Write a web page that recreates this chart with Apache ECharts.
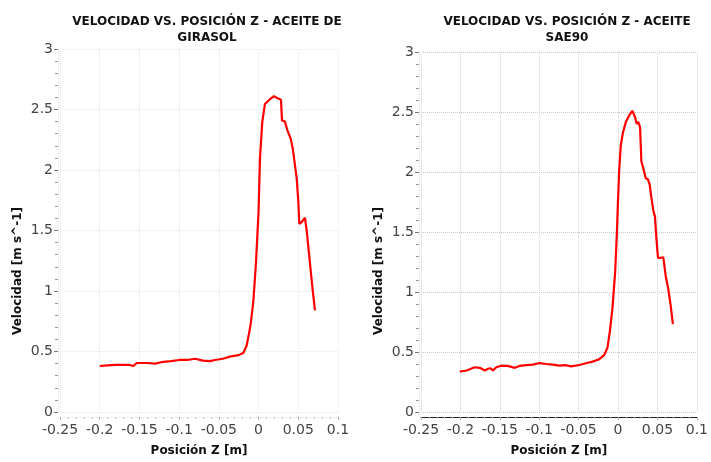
<!DOCTYPE html>
<html><head><meta charset="utf-8">
<script src="https://cdn.jsdelivr.net/npm/echarts@6/dist/echarts.min.js"></script>
<style>html,body{margin:0;padding:0;background:#fff}#c{width:711px;height:462px}</style>
</head><body><div id="c"></div>
<script>
var titleLeft = 'VELOCIDAD VS. POSICIÓN Z - ACEITE DE\nGIRASOL';
var titleRight = 'VELOCIDAD VS. POSICIÓN Z - ACEITE\nSAE90';
var xName = 'Posición Z [m]';
var yName = 'Velocidad [m s^-1]';

var zGirasol = [-0.2,-0.19,-0.18,-0.17,-0.163,-0.158,-0.153,-0.14,-0.13,-0.12,-0.11,-0.1,-0.09,-0.08,-0.07,-0.061,-0.055,-0.045,-0.035,-0.025,-0.019,-0.015,-0.012,-0.0099,-0.0067,-0.0033,0,0.0018,0.0047,0.008,0.0144,0.0194,0.0248,0.0282,0.0295,0.0332,0.0362,0.0404,0.043,0.0458,0.048,0.050,0.0513,0.0543,0.0584,0.0606,0.0647,0.0681,0.071];
var vGirasol = [0.38,0.385,0.39,0.39,0.39,0.38,0.405,0.405,0.40,0.415,0.42,0.43,0.43,0.44,0.425,0.42,0.43,0.44,0.46,0.47,0.49,0.55,0.65,0.73,0.905,1.23,1.66,2.10,2.40,2.545,2.585,2.61,2.59,2.58,2.41,2.40,2.33,2.26,2.18,2.04,1.93,1.745,1.555,1.57,1.605,1.50,1.23,1.01,0.84];

var zSae = [-0.2008,-0.192,-0.182,-0.1755,-0.169,-0.165,-0.1616,-0.1587,-0.1545,-0.148,-0.14,-0.131,-0.125,-0.1165,-0.108,-0.0997,-0.091,-0.083,-0.0744,-0.066,-0.0596,-0.049,-0.0407,-0.0323,-0.0239,-0.0176,-0.0134,-0.0104,-0.0071,-0.0037,-0.0015,0.0001,0.0014,0.0035,0.0064,0.0099,0.014,0.0182,0.0216,0.0237,0.0254,0.0279,0.0296,0.033,0.0351,0.038,0.0402,0.0422,0.0447,0.0469,0.0485,0.0507,0.054,0.0574,0.0604,0.0637,0.0667,0.0696];
var vSae = [0.337,0.346,0.373,0.368,0.346,0.36,0.365,0.346,0.373,0.386,0.384,0.368,0.384,0.39,0.395,0.408,0.40,0.395,0.386,0.39,0.38,0.392,0.406,0.42,0.44,0.474,0.537,0.672,0.864,1.163,1.49,1.79,2.007,2.225,2.334,2.416,2.47,2.51,2.457,2.40,2.42,2.375,2.09,2.007,1.947,1.939,1.893,1.79,1.68,1.626,1.46,1.285,1.285,1.29,1.136,1.027,0.89,0.733];

function pairs(a,b){return a.map(function(v,i){return [v,b[i]];});}
var FONT = 'DejaVu Sans';

function xAxis(idx, dark){
  return {
    type:'value', gridIndex:idx, min:-0.25, max:0.1, interval:0.05, offset:5,
    name:xName, nameLocation:'middle', nameGap:28,
    nameTextStyle:{fontFamily:FONT, fontWeight:'bold', fontSize:12, color:'#111'},
    axisLine:{show:true, onZero:false, lineStyle:{color: dark ? '#222' : '#eeeeee', width:1}},
    axisTick:{show:true, length:3, lineStyle:{color:'#aaa'}},
    minorTick:{show:true, splitNumber:5, length:2, lineStyle:{color:'#c4c4c4'}},
    axisLabel:{fontFamily:FONT, fontSize:14, color:'#444', margin:6},
    splitLine:{show:true, lineStyle:{type:'dotted', color: dark ? '#d2d2d2' : '#e6e6e6'}}
  };
}
function yAxis(idx, dark){
  return {
    type:'value', gridIndex:idx, min:0, max:3, interval:0.5, offset:2,
    axisLine:{show:true, onZero:false, lineStyle:{color:'#ececec', width:1}},
    axisTick:{show:true, length:4, lineStyle:{color:'#777'}},
    minorTick:{show:true, splitNumber:5, length:3, lineStyle:{color:'#9a9a9a'}},
    axisLabel:{fontFamily:FONT, fontSize:14, color:'#444', margin:5},
    splitLine:{show:true, lineStyle:{type:'dotted', color: dark ? '#c8c8c8' : '#e6e6e6'}}
  };
}

var chart = echarts.init(document.getElementById('c'));
chart.setOption({
  animation:false,
  backgroundColor:'#fff',
  title:[
    {text:titleLeft, left:202, top:9, textAlign:'center',
     textStyle:{fontFamily:FONT, fontWeight:'bold', fontSize:12, color:'#111', lineHeight:16}},
    {text:titleRight, left:562, top:9, textAlign:'center',
     textStyle:{fontFamily:FONT, fontWeight:'bold', fontSize:12, color:'#111', lineHeight:16}}
  ],
  grid:[
    {left:60, right:373, top:49, bottom:44},
    {left:421, right:13, top:52, bottom:43}
  ],
  xAxis:[xAxis(0,false), xAxis(1,true)],
  yAxis:[yAxis(0,false), yAxis(1,true)],
  graphic:[
    {type:'text', x:18, y:271, rotation:Math.PI/2,
     style:{text:yName, fontFamily:FONT, fontWeight:'bold', fontSize:12, fill:'#111', textAlign:'center', textVerticalAlign:'middle'}},
    {type:'text', x:379, y:271, rotation:Math.PI/2,
     style:{text:yName, fontFamily:FONT, fontWeight:'bold', fontSize:12, fill:'#111', textAlign:'center', textVerticalAlign:'middle'}}
  ],
  series:[
    {type:'line', xAxisIndex:0, yAxisIndex:0, data:pairs(zGirasol,vGirasol), showSymbol:false, symbol:'none',
     lineStyle:{color:'#ff0000', width:2.2}},
    {type:'line', xAxisIndex:1, yAxisIndex:1, data:pairs(zSae,vSae), showSymbol:false, symbol:'none',
     lineStyle:{color:'#ff0000', width:2.2}}
  ]
});
</script>
</body></html>
